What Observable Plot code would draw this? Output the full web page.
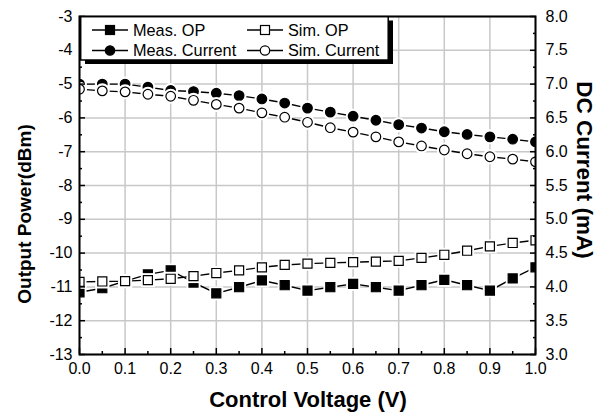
<!DOCTYPE html>
<html><head><meta charset="utf-8">
<script src="https://cdn.jsdelivr.net/npm/d3@7"></script>
<script src="https://cdn.jsdelivr.net/npm/@observablehq/plot@0.6"></script>
<style>
body{margin:0;background:#fff;}
#wrap{position:relative;width:606px;height:415px;font-family:"Liberation Sans",Arial,sans-serif;}
#wrap > svg{position:absolute;left:0;top:0;}
</style></head><body><div id="wrap"></div>
<script>
// Data
const voltage = [0,0.05,0.1,0.15,0.2,0.25,0.3,0.35,0.4,0.45,0.5,0.55,0.6,0.65,0.7,0.75,0.8,0.85,0.9,0.95,1.0];
const measOP  = [-11.16,-11.04,-10.83,-10.63,-10.51,-10.87,-11.19,-11.01,-10.81,-10.95,-11.11,-11.01,-10.91,-11.01,-11.11,-10.95,-10.79,-10.95,-11.11,-10.75,-10.42];
const simOP   = [-10.85,-10.84,-10.83,-10.80,-10.76,-10.68,-10.59,-10.51,-10.42,-10.35,-10.31,-10.29,-10.27,-10.25,-10.23,-10.14,-10.05,-9.93,-9.80,-9.70,-9.62];
const measCur = [7.0,7.0,7.0,6.955,6.905,6.89,6.865,6.83,6.78,6.72,6.645,6.585,6.525,6.465,6.40,6.35,6.295,6.255,6.22,6.185,6.145];
const simCur  = [6.925,6.90,6.885,6.85,6.82,6.76,6.70,6.645,6.575,6.51,6.435,6.355,6.29,6.22,6.145,6.085,6.025,5.97,5.925,5.89,5.85];

const xMajor = [0,0.1,0.2,0.3,0.4,0.5,0.6,0.7,0.8,0.9,1.0];
const xMinor = [0.05,0.15,0.25,0.35,0.45,0.55,0.65,0.75,0.85,0.95];
const yMajor = [-13,-12,-11,-10,-9,-8,-7,-6,-5,-4,-3];
const yMinor = [-12.5,-11.5,-10.5,-9.5,-8.5,-7.5,-6.5,-5.5,-4.5,-3.5];
const curMajor = [3.0,3.5,4.0,4.5,5.0,5.5,6.0,6.5,7.0,7.5,8.0];
const curMinor = [3.25,3.75,4.25,4.75,5.25,5.75,6.25,6.75,7.25,7.75];

const legendNames = ["Meas. OP","Sim. OP","Meas. Current","Sim. Current"];

// map current (mA, right axis 3..8) onto left-axis units (-13..-3)
const toLeft = i => 2*i - 19;
const rows = voltage.map((v,i)=>({v, measOP:measOP[i], simOP:simOP[i], mc:toLeft(measCur[i]), sc:toLeft(simCur[i])}));

function series(key, symbol, fill) {
  const r = symbol === "square" ? 5.1 : 4.8;
  const halo = symbol === "square" ? 7.9 : 7.5;
  return [
    Plot.line(rows, {x:"v", y:key, stroke:"black", strokeWidth:1.4, clip:true}),
    Plot.dot(rows, {x:"v", y:key, symbol, r:halo, fill:"white", stroke:null, clip:true}),
    Plot.dot(rows, {x:"v", y:key, symbol, r, fill, stroke:"black", strokeWidth:1.2, clip:true})
  ];
}

const grid = {stroke:"#c8c8c8", strokeOpacity:1, strokeWidth:1.5};
const chart = Plot.plot({
  width:606, height:415,
  marginLeft:79, marginRight:71, marginTop:16, marginBottom:61,
  style:{fontFamily:"'Liberation Sans', Arial, sans-serif", fontSize:"16px", color:"black", background:"white"},
  x:{domain:[0,1]},
  y:{domain:[-13,-3]},
  marks:[
    Plot.gridX({ticks:xMajor, ...grid}),
    Plot.gridY({ticks:yMajor, ...grid}),
    ...series("measOP","square","black"),
    ...series("simOP","square","white"),
    ...series("mc","circle","black"),
    ...series("sc","circle","white"),
    Plot.axisX({ticks:xMajor, tickSize:-6, tickPadding:14, tickFormat:d=>d.toFixed(1), label:null, strokeWidth:1.5}),
    Plot.axisX({ticks:xMinor, tickSize:-3, tickFormat:()=>"", label:null, strokeWidth:1.5}),
    Plot.axisY({anchor:"left", ticks:yMajor, tickSize:-6, tickPadding:13, tickFormat:d=>String(d), label:null, strokeWidth:1.5}),
    Plot.axisY({anchor:"left", ticks:yMinor, tickSize:-3, tickFormat:()=>"", label:null, strokeWidth:1.5}),
    Plot.axisY({anchor:"right", ticks:curMajor.map(toLeft), tickSize:-6, tickPadding:16, tickFormat:p=>((p+19)/2).toFixed(1), label:null, strokeWidth:1.5}),
    Plot.axisY({anchor:"right", ticks:curMinor.map(toLeft), tickSize:-3, tickFormat:()=>"", label:null, strokeWidth:1.5}),
    Plot.frame({stroke:"black", strokeWidth:2})
  ]
});
const wrap = document.getElementById("wrap");
wrap.appendChild(chart);

// overlay: legend and axis titles
const NS = "http://www.w3.org/2000/svg";
const ov = document.createElementNS(NS,"svg");
ov.setAttribute("width",606); ov.setAttribute("height",415);
ov.style.fontFamily = "'Liberation Sans', Arial, sans-serif";
function el(tag, attrs, text){ const e=document.createElementNS(NS,tag); for(const k in attrs) e.setAttribute(k,attrs[k]); if(text!=null) e.textContent=text; ov.appendChild(e); return e; }

el("rect",{x:85,y:20.5,width:308,height:43.5,fill:"black"});
el("rect",{x:80.7,y:16.7,width:307.5,height:43.3,fill:"white",stroke:"black","stroke-width":1.5});
const items = [
  {name:legendNames[0], sym:"square", fill:"black", cx:110, cy:30},
  {name:legendNames[1], sym:"square", fill:"white", cx:265, cy:30},
  {name:legendNames[2], sym:"circle", fill:"black", cx:110, cy:50.5},
  {name:legendNames[3], sym:"circle", fill:"white", cx:265, cy:50.5}
];
for (const it of items) {
  el("line",{x1:it.cx-18,x2:it.cx+18,y1:it.cy,y2:it.cy,stroke:"black","stroke-width":1.4});
  if (it.sym==="square") el("rect",{x:it.cx-4.5,y:it.cy-4.5,width:9,height:9,fill:it.fill,stroke:"black","stroke-width":1.2});
  else el("circle",{cx:it.cx,cy:it.cy,r:4.7,fill:it.fill,stroke:"black","stroke-width":1.2});
  el("text",{x:it.cx+23,y:it.cy+5.8,"font-size":16.3,fill:"black"},it.name);
}
el("text",{x:308,y:407,"text-anchor":"middle","font-size":22,"font-weight":"bold"},"Control Voltage (V)");
el("text",{transform:"translate(31,214) rotate(-90)","text-anchor":"middle","font-size":19,"font-weight":"bold"},"Output Power(dBm)");
el("text",{transform:"translate(577,170) rotate(90)","text-anchor":"middle","font-size":22.5,"font-weight":"bold"},"DC Current (mA)");
wrap.appendChild(ov);
</script></body></html>
